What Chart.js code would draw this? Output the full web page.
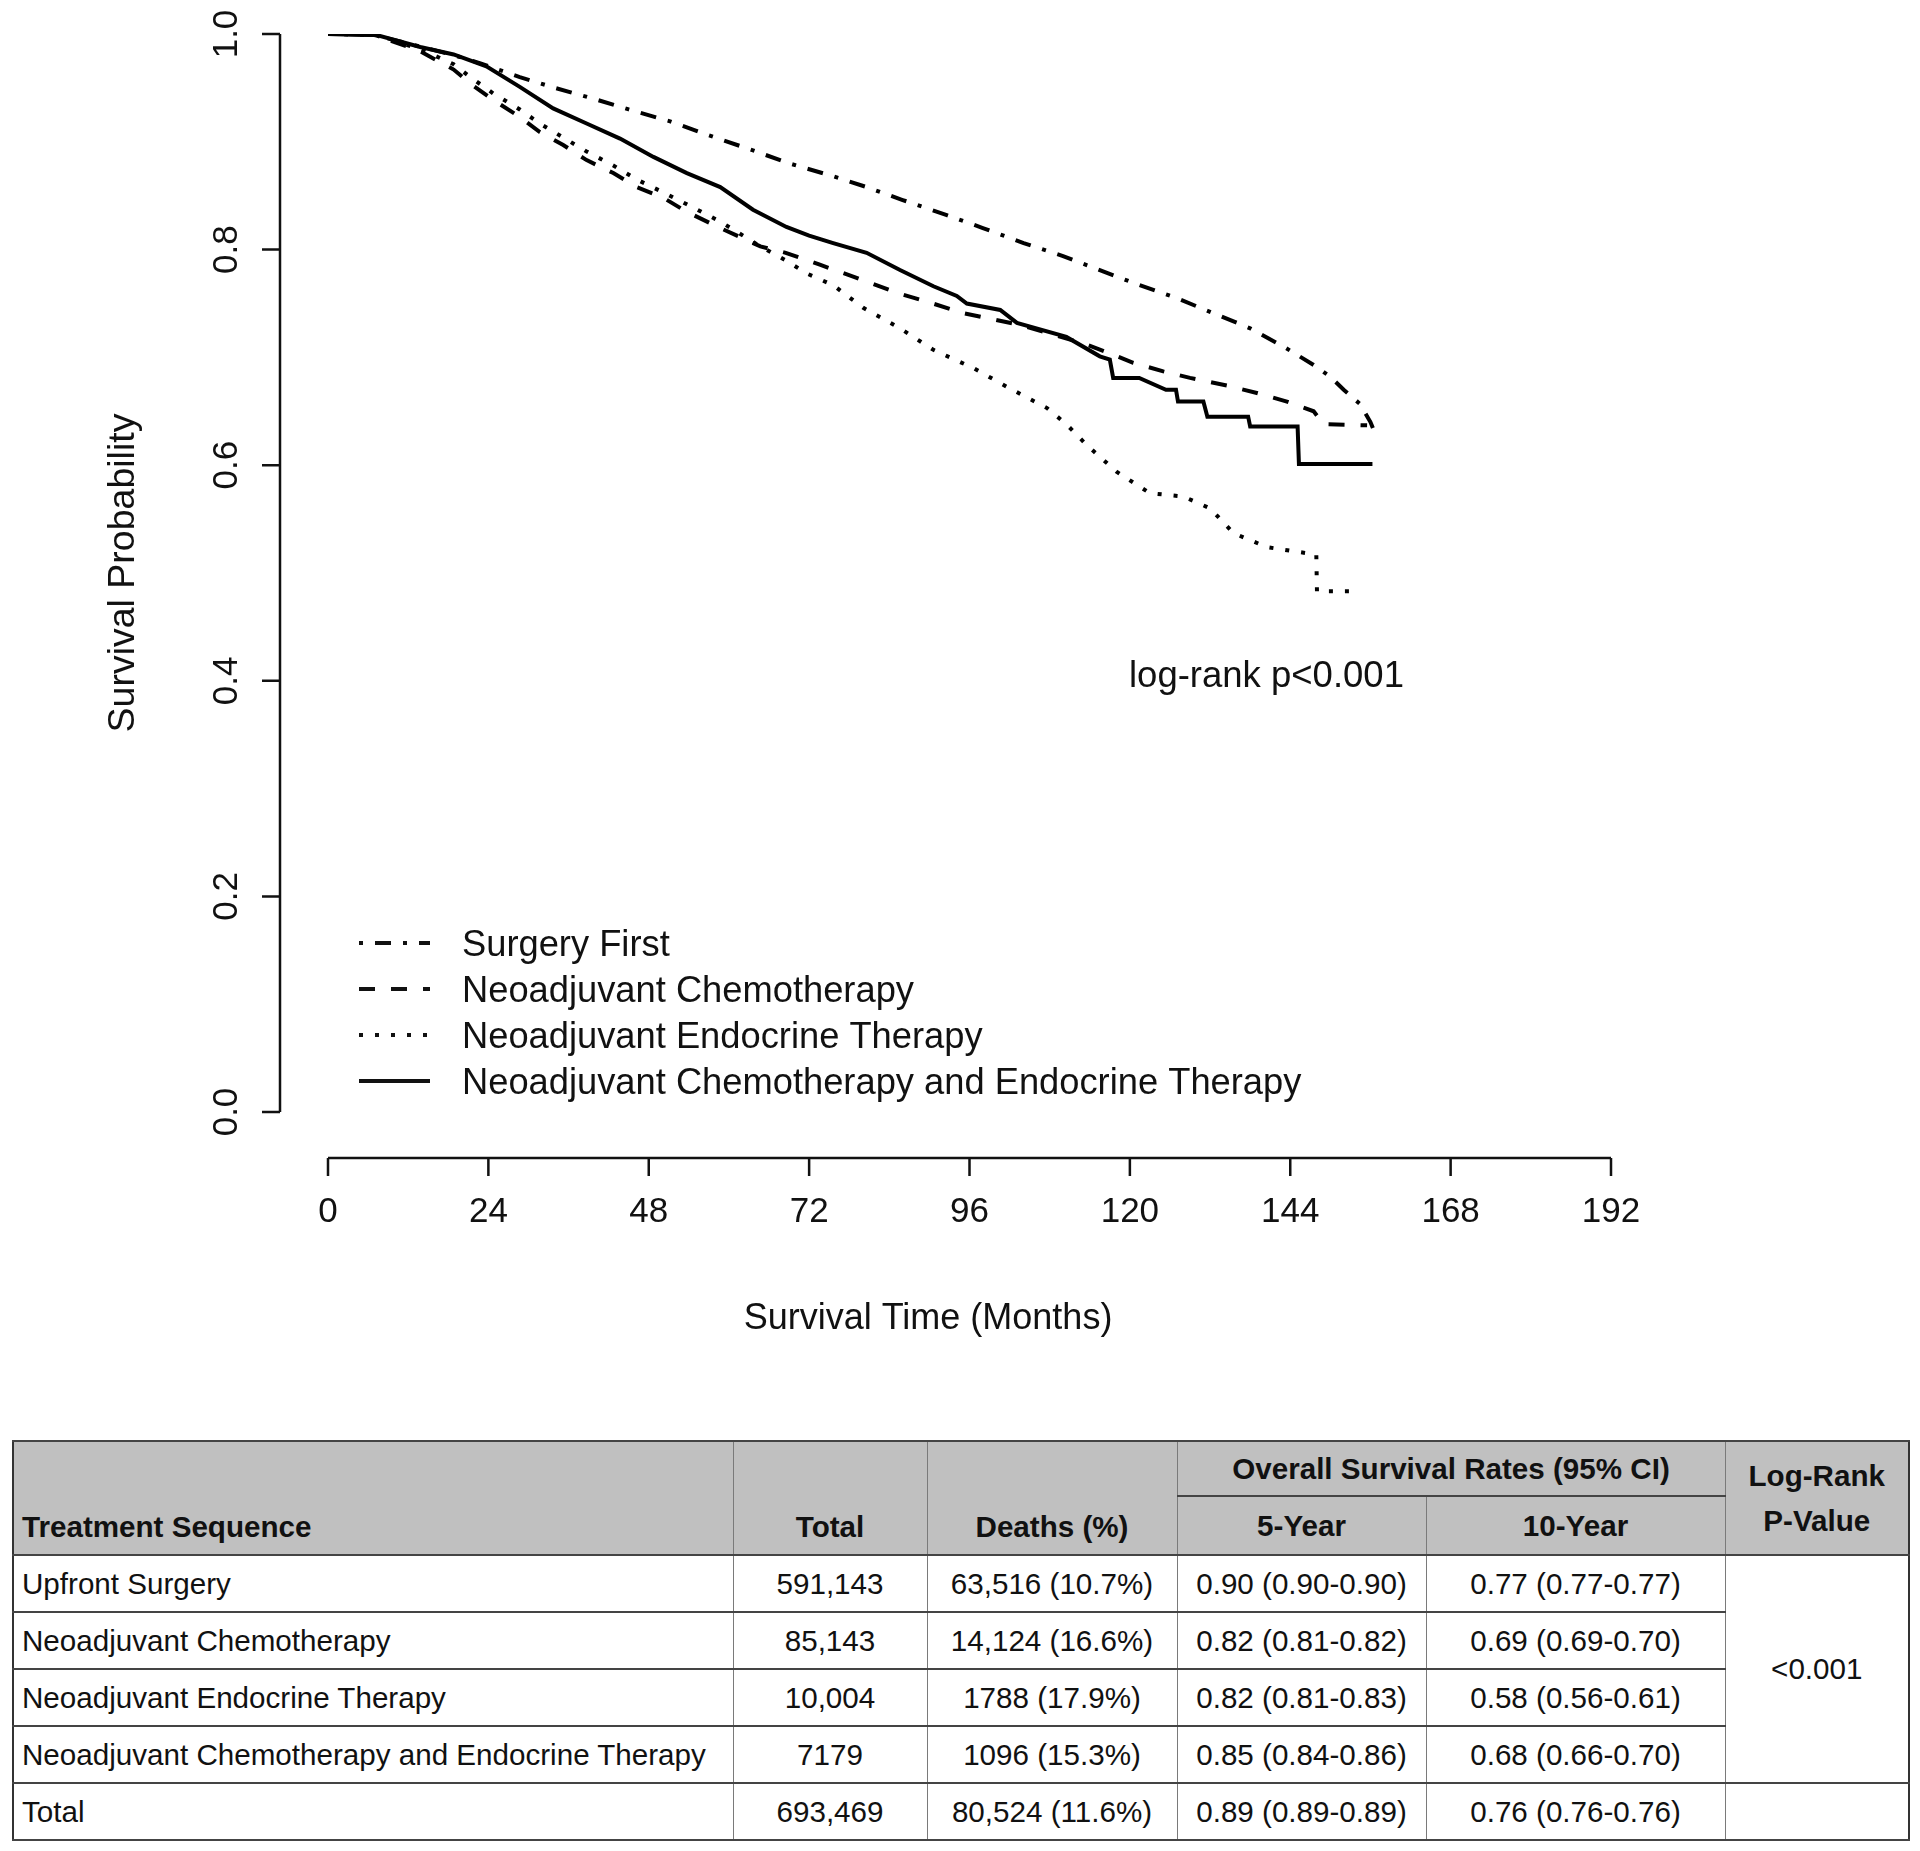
<!DOCTYPE html>
<html>
<head>
<meta charset="utf-8">
<title>Overall survival by treatment sequence</title>
<script src="https://cdn.jsdelivr.net/npm/chart.js@4.4.1/dist/chart.umd.min.js"></script>
<style>
  body { margin: 0; background: #fff; font-family: "Liberation Sans", Arial, sans-serif; color: #111; }
  #wrap { position: relative; width: 1920px; height: 1851px; overflow: hidden; }
  #chart { position: absolute; left: 0; top: 0; }
  #tbl { position: absolute; left: 12px; top: 1440px; width: 1896px; border-collapse: collapse;
         table-layout: fixed; font-size: 29.6px; border: 2px solid #333; }
  #tbl th, #tbl td { border-left: 1px solid #7a7a7a; border-right: 1px solid #7a7a7a;
         border-top: 2px solid #444; border-bottom: 2px solid #444; padding: 0 8px; white-space: nowrap; }
  #tbl th { background: #c0c0c0; font-weight: bold; }
  #tbl td { text-align: center; height: 55px; }
  #tbl td.name, #tbl th.name { text-align: left; }
  #tbl th.low { vertical-align: bottom; padding-bottom: 10px; }
  #tbl tr.h1 th { height: 53px; }
  #tbl tr.h2 th { height: 57px; }
  #tbl th.lr { line-height: 45px; }
</style>
</head>
<body>
<div id="wrap">
  <canvas id="chart" width="1920" height="1420"></canvas>
  <table id="tbl"></table>
</div>
<script>
// 横轴 / 纵轴刻度
const xTicks = [0, 24, 48, 72, 96, 120, 144, 168, 192];
const yTicks = [0, 0.2, 0.4, 0.6, 0.8, 1.0];
const yTickLabels = ['0.0', '0.2', '0.4', '0.6', '0.8', '1.0'];

// Surgery First (dash-dot)
const timeSF = [0, 7, 14, 19, 22.7, 28.7, 34, 39.7, 45, 51.2, 57, 63.6, 69, 75.1, 80.6, 86, 92.6, 98, 104.1, 110, 115.5, 121, 127, 132.5, 138, 143, 147.5, 150, 152, 154.4, 156, 157];
const survSF = [1.0, 0.999, 0.988, 0.980, 0.973, 0.960, 0.950, 0.940, 0.930, 0.919, 0.906, 0.892, 0.880, 0.869, 0.858, 0.846, 0.832, 0.820, 0.806, 0.794, 0.781, 0.768, 0.755, 0.741, 0.727, 0.710, 0.693, 0.682, 0.670, 0.657, 0.640, 0.625];

// Neoadjuvant Chemotherapy (dashed)
const timeNC = [0, 7, 13.8, 18.8, 21.3, 24.7, 28.7, 31.7, 35.2, 38.7, 42.7, 46.2, 50.2, 53.7, 58.7, 64.7, 68.5, 73.6, 79, 85.6, 90.5, 95.1, 99, 103.6, 108, 113, 116.5, 120.5, 125, 129, 134.5, 139, 143.5, 147.5, 149, 155.5];
const survNC = [1.0, 0.999, 0.984, 0.967, 0.954, 0.939, 0.923, 0.909, 0.897, 0.883, 0.871, 0.858, 0.848, 0.835, 0.820, 0.803, 0.797, 0.786, 0.774, 0.759, 0.750, 0.741, 0.736, 0.730, 0.722, 0.713, 0.705, 0.695, 0.687, 0.681, 0.674, 0.667, 0.659, 0.650, 0.638, 0.637];

// Neoadjuvant Endocrine Therapy (dotted)
const timeNET = [0, 7, 13.8, 18.8, 21.3, 24.7, 28.7, 31.7, 35.2, 38.7, 42.7, 46.2, 50.2, 53.7, 58.7, 64.7, 68.5, 71.6, 75.6, 80.1, 85.6, 90.6, 96.6, 102.1, 107.6, 110.5, 113.5, 118, 123, 128, 132, 135.5, 140.5, 147.9, 148, 154];
const survNET = [1.0, 0.999, 0.986, 0.972, 0.960, 0.945, 0.930, 0.917, 0.904, 0.891, 0.878, 0.865, 0.853, 0.842, 0.826, 0.803, 0.790, 0.778, 0.767, 0.746, 0.727, 0.707, 0.690, 0.671, 0.653, 0.638, 0.619, 0.594, 0.574, 0.571, 0.560, 0.537, 0.524, 0.517, 0.483, 0.483];

// Neoadjuvant Chemotherapy and Endocrine Therapy (solid)
const timeNCET = [0, 7.3, 13.8, 18.8, 23.7, 28.7, 33.7, 38.7, 43.7, 48.7, 53.7, 58.7, 63.6, 68.6, 72, 75.6, 80.6, 85.6, 90.6, 94.1, 95.6, 100.6, 103.1, 110.5, 115.5, 117.0, 117.5, 121.4, 125.4, 126.9, 127.2, 131.0, 131.6, 137.7, 138.0, 145.1, 145.3, 156.3];
const survNCET = [1.0, 0.999, 0.988, 0.981, 0.970, 0.951, 0.931, 0.917, 0.903, 0.886, 0.871, 0.858, 0.837, 0.821, 0.813, 0.806, 0.797, 0.781, 0.766, 0.757, 0.750, 0.744, 0.732, 0.719, 0.701, 0.698, 0.681, 0.681, 0.670, 0.670, 0.659, 0.659, 0.645, 0.645, 0.636, 0.636, 0.601, 0.601];

const seriesNames = ['Surgery First', 'Neoadjuvant Chemotherapy', 'Neoadjuvant Endocrine Therapy', 'Neoadjuvant Chemotherapy and Endocrine Therapy'];

// 表格
const tableHeadTop = ['Treatment Sequence', 'Total', 'Deaths (%)', 'Overall Survival Rates (95% CI)', 'Log-Rank<br>P-Value'];
const tableHeadSub = ['5-Year', '10-Year'];
const rowNames = ['Upfront Surgery', 'Neoadjuvant Chemotherapy', 'Neoadjuvant Endocrine Therapy', 'Neoadjuvant Chemotherapy and Endocrine Therapy', 'Total'];
const rowTotals = ['591,143', '85,143', '10,004', '7179', '693,469'];
const rowDeaths = ['63,516 (10.7%)', '14,124 (16.6%)', '1788 (17.9%)', '1096 (15.3%)', '80,524 (11.6%)'];
const rowFiveYear = ['0.90 (0.90-0.90)', '0.82 (0.81-0.82)', '0.82 (0.81-0.83)', '0.85 (0.84-0.86)', '0.89 (0.89-0.89)'];
const rowTenYear = ['0.77 (0.77-0.77)', '0.69 (0.69-0.70)', '0.58 (0.56-0.61)', '0.68 (0.66-0.70)', '0.76 (0.76-0.76)'];
const logRankP = '<0.001';

function pts(t, s) {
  return t.map((v, i) => ({ x: v, y: s[i] }));
}

const FONT = '"Liberation Sans", Arial, sans-serif';
const INK = '#111';

// R 风格的坐标轴、图例和文字
const rStylePlugin = {
  id: 'rStyle',
  afterDraw(chart) {
    const ctx = chart.ctx;
    const xs = chart.scales.x;
    const ys = chart.scales.y;
    const axisX = 280;
    const axisY = 1158;
    ctx.save();
    ctx.strokeStyle = INK;
    ctx.fillStyle = INK;
    ctx.lineWidth = 2.5;
    ctx.setLineDash([]);

    // y axis
    ctx.beginPath();
    ctx.moveTo(axisX, ys.getPixelForValue(yTicks[0]));
    ctx.lineTo(axisX, ys.getPixelForValue(yTicks[yTicks.length - 1]));
    yTicks.forEach(v => {
      const p = ys.getPixelForValue(v);
      ctx.moveTo(axisX, p);
      ctx.lineTo(axisX - 18, p);
    });
    // x axis
    ctx.moveTo(xs.getPixelForValue(xTicks[0]), axisY);
    ctx.lineTo(xs.getPixelForValue(xTicks[xTicks.length - 1]), axisY);
    xTicks.forEach(v => {
      const p = xs.getPixelForValue(v);
      ctx.moveTo(p, axisY);
      ctx.lineTo(p, axisY + 18);
    });
    ctx.stroke();

    ctx.font = '35px ' + FONT;
    ctx.textAlign = 'center';
    ctx.textBaseline = 'middle';
    xTicks.forEach(v => ctx.fillText(String(v), xs.getPixelForValue(v), 1212));
    yTicks.forEach((v, i) => {
      ctx.save();
      ctx.translate(227, ys.getPixelForValue(v));
      ctx.rotate(-Math.PI / 2);
      ctx.fillText(yTickLabels[i], 0, 0);
      ctx.restore();
    });

    // axis titles
    ctx.font = '36px ' + FONT;
    ctx.fillText('Survival Time (Months)', 928, 1319);
    ctx.save();
    ctx.translate(124, 573);
    ctx.rotate(-Math.PI / 2);
    ctx.font = '37.5px ' + FONT;
    ctx.fillText('Survival Probability', 0, 0);
    ctx.restore();

    // log-rank
    ctx.textAlign = 'left';
    ctx.font = '36.5px ' + FONT;
    ctx.fillText('log-rank p<0.001', 1129, 677);

    // legend
    ctx.font = '36.3px ' + FONT;
    chart.data.datasets.forEach((ds, i) => {
      const y = 946 + i * 46;
      ctx.beginPath();
      ctx.lineWidth = ds.borderWidth;
      ctx.setLineDash(ds.borderDash || []);
      ctx.moveTo(359, y - 3);
      ctx.lineTo(430, y - 3);
      ctx.stroke();
      ctx.setLineDash([]);
      ctx.fillText(ds.label, 462, y);
    });
    ctx.restore();
  }
};

function makeSet(label, t, s, dash) {
  return {
    label: label,
    data: pts(t, s),
    borderColor: '#000',
    borderWidth: 4,
    borderDash: dash,
    pointRadius: 0,
    tension: 0,
    fill: false
  };
}

new Chart(document.getElementById('chart'), {
  type: 'line',
  data: {
    datasets: [
      makeSet(seriesNames[0], timeSF, survSF, [4, 12, 16, 12]),
      makeSet(seriesNames[1], timeNC, survNC, [16, 16]),
      makeSet(seriesNames[2], timeNET, survNET, [4, 12]),
      makeSet(seriesNames[3], timeNCET, survNCET, [])
    ]
  },
  options: {
    responsive: false,
    devicePixelRatio: 1,
    animation: false,
    layout: { padding: { left: 328, right: 309, top: 34, bottom: 308 } },
    scales: {
      x: { type: 'linear', min: 0, max: 192, display: false },
      y: { type: 'linear', min: 0, max: 1, display: false }
    },
    plugins: { legend: { display: false }, tooltip: { enabled: false } }
  },
  plugins: [rStylePlugin]
});

// 构建表格
(function buildTable() {
  const t = document.getElementById('tbl');
  let html = '<colgroup><col style="width:720px"><col style="width:194px"><col style="width:250px">' +
             '<col style="width:249px"><col style="width:299px"><col style="width:184px"></colgroup>';
  html += '<tr class="h1"><th class="name low" rowspan="2">' + tableHeadTop[0] + '</th>' +
          '<th class="low" rowspan="2">' + tableHeadTop[1] + '</th>' +
          '<th class="low" rowspan="2">' + tableHeadTop[2] + '</th>' +
          '<th colspan="2">' + tableHeadTop[3] + '</th>' +
          '<th class="lr" rowspan="2">' + tableHeadTop[4] + '</th></tr>';
  html += '<tr class="h2"><th>' + tableHeadSub[0] + '</th><th>' + tableHeadSub[1] + '</th></tr>';
  rowNames.forEach((name, i) => {
    html += '<tr><td class="name">' + name + '</td><td>' + rowTotals[i] + '</td><td>' + rowDeaths[i] +
            '</td><td>' + rowFiveYear[i] + '</td><td>' + rowTenYear[i] + '</td>';
    if (i === 0) html += '<td rowspan="4">' + logRankP.replace('<', '&lt;') + '</td>';
    if (i === 4) html += '<td></td>';
    html += '</tr>';
  });
  t.innerHTML = html;
})();
</script>
</body>
</html>
